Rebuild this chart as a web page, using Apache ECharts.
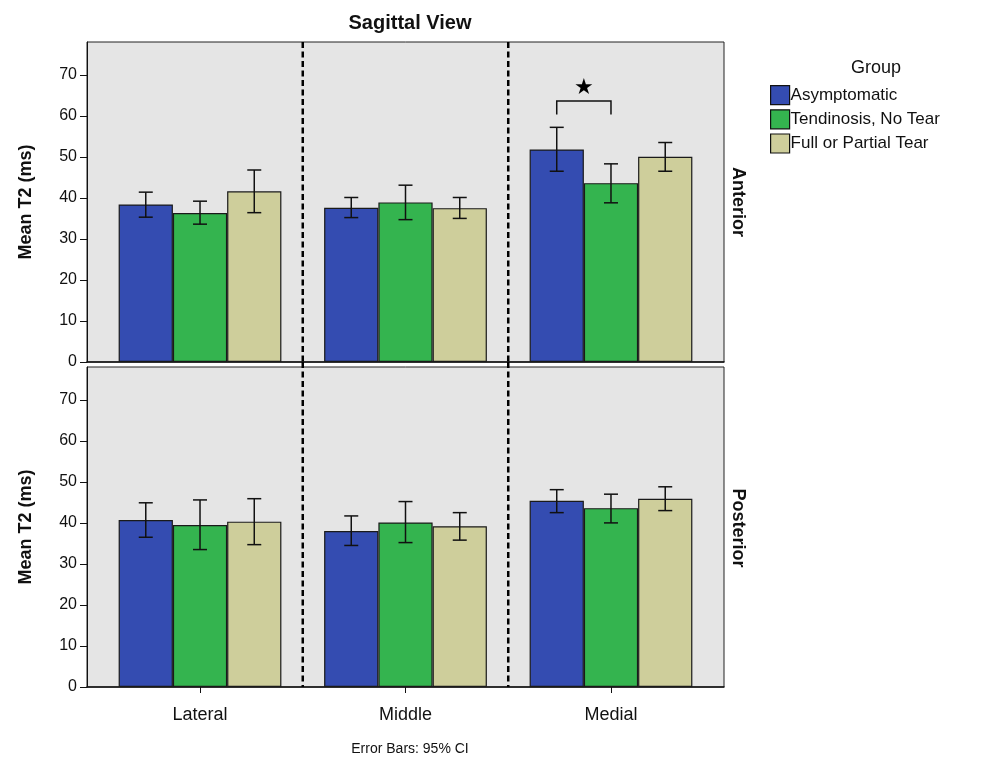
<!DOCTYPE html>
<html>
<head>
<meta charset="utf-8">
<script src="https://cdn.jsdelivr.net/npm/echarts@6/dist/echarts.min.js"></script>
<style>html,body{margin:0;padding:0;background:#fff;}#c{width:988px;height:762px;}</style>
</head>
<body>
<div id="c"></div>
<script>
// ---- data ----
const categories = ['Lateral', 'Middle', 'Medial'];
const groups = ['Asymptomatic', 'Tendinosis, No Tear', 'Full or Partial Tear'];
const yTicks = [0, 10, 20, 30, 40, 50, 60, 70];

// Anterior (top panel): mean, CI low, CI high per group, per category
const antAsym   = [38.4, 37.6, 51.8];
const antAsymLo = [35.3, 35.2, 46.5];
const antAsymHi = [41.4, 40.1, 57.2];
const antTend   = [36.3, 38.9, 43.6];
const antTendLo = [33.6, 34.7, 38.8];
const antTendHi = [39.2, 43.1, 48.3];
const antTear   = [41.6, 37.5, 50.0];
const antTearLo = [36.4, 35.0, 46.5];
const antTearHi = [46.8, 40.1, 53.5];

// Posterior (bottom panel)
const postAsym   = [40.7, 38.0, 45.4];
const postAsymLo = [36.5, 34.5, 42.5];
const postAsymHi = [44.9, 41.7, 48.1];
const postTend   = [39.5, 40.1, 43.6];
const postTendLo = [33.5, 35.2, 40.0];
const postTendHi = [45.6, 45.2, 47.0];
const postTear   = [40.3, 39.2, 45.9];
const postTearLo = [34.7, 35.8, 43.0];
const postTearHi = [45.9, 42.5, 48.8];

// significance bracket (Anterior, Medial: Asymptomatic vs Tendinosis)
const sigCategory = 2;
const sigGroups = [0, 1];
const sigBracketTop = 63.6;
const sigBracketBottom = 60.3;
const sigStarY = 66.8;

// ---- style ----
const colors = ['#344CB1', '#34B44F', '#CECE9B'];
const FONT = 'Liberation Sans, Arial, sans-serif';
const BAR_FRAC = 0.264; // bar width as fraction of category band

const chart = echarts.init(document.getElementById('c'), null, {renderer: 'canvas'});

const panels = [
  {means: [antAsym, antTend, antTear], lo: [antAsymLo, antTendLo, antTearLo], hi: [antAsymHi, antTendHi, antTearHi]},
  {means: [postAsym, postTend, postTear], lo: [postAsymLo, postTendLo, postTearLo], hi: [postAsymHi, postTendHi, postTearHi]}
];

const grids = [
  {left: 87, top: 42, width: 637, height: 320, show: true, backgroundColor: '#e5e5e5', borderColor: '#222', borderWidth: 1},
  {left: 87, top: 367, width: 637, height: 320, show: true, backgroundColor: '#e5e5e5', borderColor: '#222', borderWidth: 1}
];

const xAxes = [0, 1].map(i => ({
  gridIndex: i, type: 'value', min: -0.55, max: 2.55,
  splitLine: {show: false},
  axisLine: {show: true, onZero: false, lineStyle: {color: '#111', width: 1.5}},
  axisTick: {show: i === 1, length: 6, customValues: [0, 1, 2], lineStyle: {color: '#111'}},
  axisLabel: {show: i === 1, customValues: [0, 1, 2], formatter: v => categories[Math.round(v)] || '',
    fontFamily: FONT, fontSize: 18, color: '#111', margin: 19}
}));

const yAxes = [0, 1].map(i => ({
  gridIndex: i, type: 'value', min: 0, max: 78,
  name: 'Mean T2 (ms)', nameLocation: 'middle', nameGap: 52,
  nameTextStyle: {fontFamily: FONT, fontSize: 18, fontWeight: 'bold', color: '#111'},
  splitLine: {show: false},
  axisLine: {show: true, onZero: false, lineStyle: {color: '#111', width: 1}},
  axisTick: {show: true, length: 7, customValues: yTicks, lineStyle: {color: '#111'}},
  axisLabel: {customValues: yTicks, fontFamily: FONT, fontSize: 16, color: '#111', margin: 10}
}));

const series = [];
panels.forEach((p, pi) => {
  groups.forEach((g, gi) => {
    series.push({
      name: g, type: 'bar', xAxisIndex: pi, yAxisIndex: pi,
      barWidth: (BAR_FRAC * 100) + '%', barGap: '0%',
      itemStyle: {color: colors[gi], borderColor: '#1a1a1a', borderWidth: 1.2},
      data: p.means[gi].map((v, ci) => [ci, v]),
      z: 2
    });
  });
  // error bars
  groups.forEach((g, gi) => {
    series.push({
      type: 'custom', xAxisIndex: pi, yAxisIndex: pi, silent: true, z: 5,
      data: p.lo[gi].map((v, ci) => [ci, v, p.hi[gi][ci]]),
      renderItem: function (params, api) {
        const band = api.size([1, 0])[0];
        const off = (gi - 1) * BAR_FRAC * band;
        const lo = api.coord([api.value(0), api.value(1)]);
        const hi = api.coord([api.value(0), api.value(2)]);
        const x = lo[0] + off;
        const cap = 7;
        const st = {stroke: '#111', lineWidth: 1.5};
        return {type: 'group', children: [
          {type: 'line', shape: {x1: x, y1: lo[1], x2: x, y2: hi[1]}, style: st},
          {type: 'line', shape: {x1: x - cap, y1: lo[1], x2: x + cap, y2: lo[1]}, style: st},
          {type: 'line', shape: {x1: x - cap, y1: hi[1], x2: x + cap, y2: hi[1]}, style: st}
        ]};
      }
    });
  });
  // dashed dividers
  series.push({
    type: 'custom', xAxisIndex: pi, yAxisIndex: pi, silent: true, z: 6,
    data: [[0.5], [1.5]],
    renderItem: function (params, api) {
      const top = api.coord([api.value(0), 78]);
      const bot = api.coord([api.value(0), 0]);
      return {type: 'line', shape: {x1: top[0], y1: top[1] - (pi === 1 ? 5 : 0), x2: bot[0], y2: bot[1]},
        style: {stroke: '#000', lineWidth: 2.5, lineDash: [6, 3.5]}};
    }
  });
});

// significance bracket + star on top panel
series.push({
  type: 'custom', xAxisIndex: 0, yAxisIndex: 0, silent: true, z: 7,
  data: [[sigCategory, sigBracketTop, sigBracketBottom, sigStarY]],
  renderItem: function (params, api) {
    const band = api.size([1, 0])[0];
    const c = api.value(0);
    const x1 = api.coord([c, 0])[0] + (sigGroups[0] - 1) * BAR_FRAC * band;
    const x2 = api.coord([c, 0])[0] + (sigGroups[1] - 1) * BAR_FRAC * band;
    const yT = api.coord([c, api.value(1)])[1];
    const yB = api.coord([c, api.value(2)])[1];
    const yS = api.coord([c, api.value(3)])[1];
    const st = {stroke: '#111', lineWidth: 1.5, fill: null};
    return {type: 'group', children: [
      {type: 'polyline', shape: {points: [[x1, yB], [x1, yT], [x2, yT], [x2, yB]]}, style: st},
      {type: 'text', x: (x1 + x2) / 2, y: yS, style: {text: '★', fontSize: 22, fill: '#000',
        align: 'center', verticalAlign: 'middle', fontFamily: 'DejaVu Sans'}}
    ]};
  }
});

chart.setOption({
  animation: false,
  backgroundColor: '#fff',
  title: [
    {text: 'Sagittal View', left: 405, top: 8, textAlign: 'center',
      textStyle: {fontFamily: FONT, fontSize: 20, fontWeight: 'bold', color: '#111'}},
    {text: 'Group', left: 871, top: 54, textAlign: 'center',
      textStyle: {fontFamily: FONT, fontSize: 18, fontWeight: 'normal', color: '#111'}},
    {text: 'Error Bars: 95% CI', left: 405, top: 737, textAlign: 'center',
      textStyle: {fontFamily: FONT, fontSize: 14, fontWeight: 'normal', color: '#111'}}
  ],
  legend: {
    data: groups, orient: 'vertical', left: 770, top: 85, padding: 0,
    itemWidth: 19, itemHeight: 19, itemGap: 4, icon: 'rect',
    textStyle: {fontFamily: FONT, fontSize: 17, color: '#111', padding: [0, 0, 0, -4]},
    itemStyle: {borderColor: '#111', borderWidth: 1.2}
  },
  grid: grids,
  xAxis: xAxes,
  yAxis: yAxes,
  graphic: [
    {type: 'text', x: 738, y: 202, rotation: -Math.PI / 2,
      style: {text: 'Anterior', fontFamily: FONT, fontSize: 18, fontWeight: 'bold', fill: '#111',
        align: 'center', verticalAlign: 'middle'}},
    {type: 'text', x: 738, y: 528, rotation: -Math.PI / 2,
      style: {text: 'Posterior', fontFamily: FONT, fontSize: 18, fontWeight: 'bold', fill: '#111',
        align: 'center', verticalAlign: 'middle'}}
  ],
  series: series
});
</script>
</body>
</html>
